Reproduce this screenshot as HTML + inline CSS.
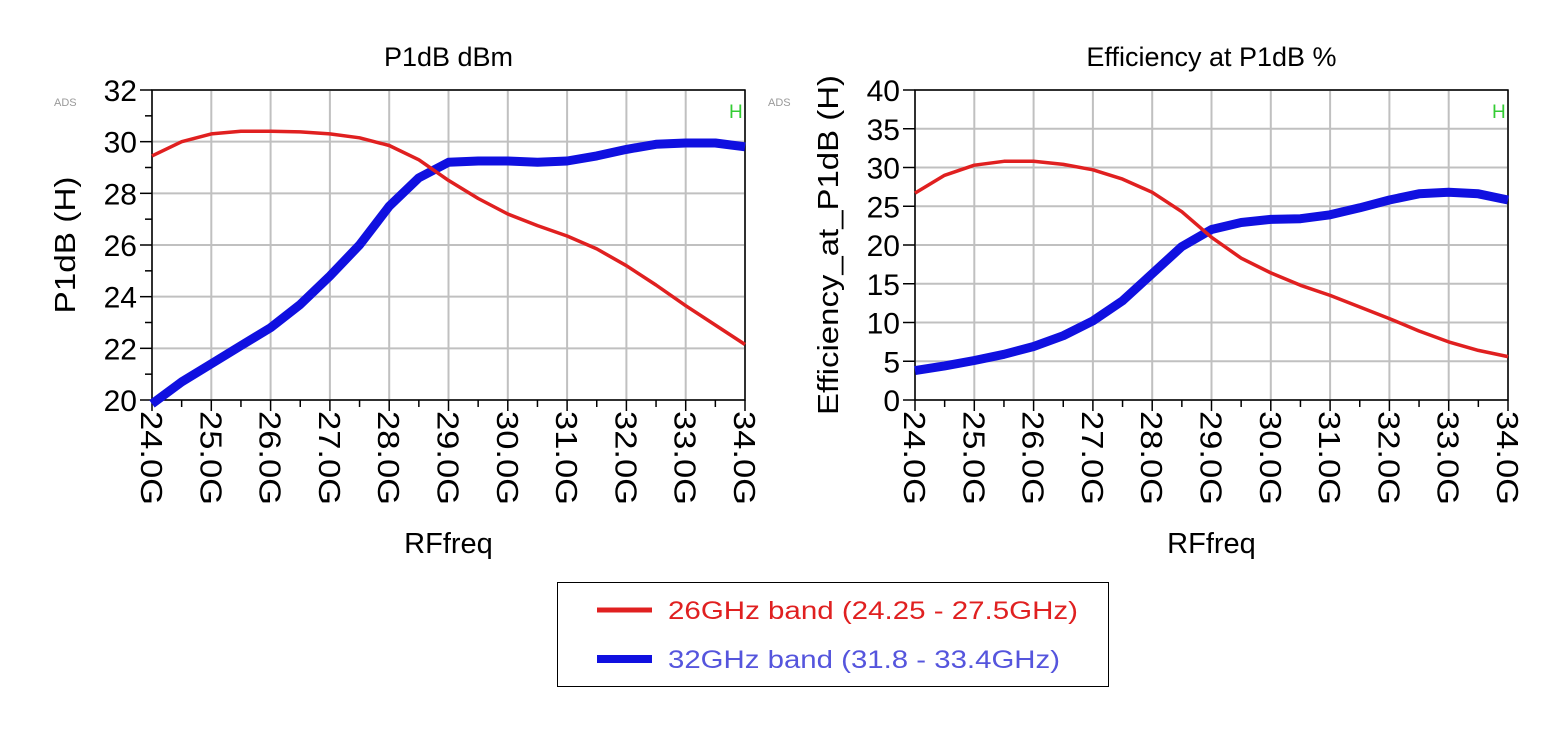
<!DOCTYPE html>
<html><head><meta charset="utf-8"><style>
html,body{margin:0;padding:0;background:#fff;}
body{width:1557px;height:733px;overflow:hidden;font-family:"Liberation Sans",Arial,sans-serif;}
</style></head><body>
<svg id="chart" width="1557" height="733" xmlns="http://www.w3.org/2000/svg" font-family="Liberation Sans, Arial, sans-serif">
<g id="legend">
<rect x="557.5" y="582.5" width="551" height="104" fill="#fff" stroke="#000" stroke-width="1"/>
<line x1="597" y1="610" x2="652" y2="610" stroke="#e02020" stroke-width="5"/>
<text x="668" y="619" font-size="25" fill="#e02020" textLength="410" lengthAdjust="spacingAndGlyphs">26GHz band (24.25 - 27.5GHz)</text>
<line x1="597" y1="659" x2="652" y2="659" stroke="#1010e0" stroke-width="8"/>
<text x="668" y="668" font-size="25" fill="#5555dd" textLength="392" lengthAdjust="spacingAndGlyphs">32GHz band (31.8 - 33.4GHz)</text>
</g>
</svg>
<script>
const freqs=[24,24.5,25,25.5,26,26.5,27,27.5,28,28.5,29,29.5,30,30.5,31,31.5,32,32.5,33,33.5,34];
const xTickLabels=["24.0G","25.0G","26.0G","27.0G","28.0G","29.0G","30.0G","31.0G","32.0G","33.0G","34.0G"];
const p1dbRed=[29.45,30.0,30.3,30.4,30.4,30.38,30.3,30.15,29.85,29.3,28.5,27.8,27.2,26.75,26.35,25.85,25.2,24.45,23.65,22.9,22.15];
const p1dbBlue=[19.85,20.7,21.4,22.1,22.8,23.7,24.8,26.0,27.5,28.6,29.2,29.25,29.25,29.2,29.25,29.45,29.7,29.9,29.95,29.95,29.8];
const effRed=[26.7,29.0,30.3,30.8,30.8,30.4,29.7,28.5,26.8,24.3,21.0,18.3,16.4,14.8,13.5,12.0,10.5,8.9,7.5,6.4,5.6];
const effBlue=[3.8,4.4,5.1,5.9,6.9,8.3,10.2,12.8,16.3,19.8,22.0,22.9,23.3,23.4,23.9,24.8,25.8,26.6,26.8,26.6,25.8];
const p1dbTicks=[20,22,24,26,28,30,32];
const effTicks=[0,5,10,15,20,25,30,35,40];

const NS="http://www.w3.org/2000/svg";
const svg=document.getElementById('chart');
function mk(tag,attrs,parent){const e=document.createElementNS(NS,tag);for(const k in attrs)e.setAttribute(k,attrs[k]);(parent||svg).appendChild(e);return e;}

function panel(o){
  const g=mk('g',{});
  
  
  const X=v=>o.x0+(v-24)/(34-24)*(o.x1-o.x0);
  const Y=v=>o.y1-(v-o.ymin)/(o.ymax-o.ymin)*(o.y1-o.y0);
  xTickLabels.forEach((l,i)=>{const x=X(24+i);
    const ln=mk('line',{x1:x,y1:o.y0,x2:x,y2:o.y1,stroke:'#c0c0c0','stroke-width':2},g);
    });
  o.ticks.forEach(v=>{const y=Y(v);
    const ln=mk('line',{x1:o.x0,y1:y,x2:o.x1,y2:y,stroke:'#c0c0c0','stroke-width':2},g);
    });
  const fr=mk('rect',{x:o.x0,y:o.y0,width:o.x1-o.x0,height:o.y1-o.y0,fill:'none',stroke:'#000','stroke-width':1.5},g);
  
  for(let v=24;v<=34.001;v+=0.5){const x=X(v);const major=Math.abs(v-Math.round(v))<0.01;
    const t=mk('line',{x1:x,y1:o.y1,x2:x,y2:o.y1+(major?11:7),stroke:'#000','stroke-width':1.5},g);
    }
  xTickLabels.forEach((l,i)=>{const x=X(24+i);
    const t=mk('text',{x:0,y:0,'font-size':31,fill:'#000',transform:`translate(${x-11},${o.y1+11}) rotate(90)`,textLength:94,lengthAdjust:'spacingAndGlyphs'},g);
    t.textContent=l;});
  o.ticks.forEach((v,i)=>{const y=Y(v);
    const t=mk('line',{x1:o.x0-12,y1:y,x2:o.x0,y2:y,stroke:'#000','stroke-width':1.5},g);
    
    if(o.minor&&i<o.ticks.length-1){const ym=Y(v+(o.ticks[1]-o.ticks[0])/2);
      const m=mk('line',{x1:o.x0-7,y1:ym,x2:o.x0,y2:ym,stroke:'#000','stroke-width':1.5},g);
      }
    const tl=mk('text',{x:o.x0-15,y:y+11,'font-size':30,'text-anchor':'end',fill:'#000'},g);
    tl.textContent=v;});
  const pts=a=>freqs.map((f,i)=>X(f).toFixed(1)+','+Y(a[i]).toFixed(1)).join(' ');
  const b=mk('polyline',{points:pts(o.blue),fill:'none',stroke:'#1010e0','stroke-width':9,'stroke-linejoin':'round'},g);
  
  const r=mk('polyline',{points:pts(o.red),fill:'none',stroke:'#e02020','stroke-width':3.5,'stroke-linejoin':'round'},g);
  
  const ti=mk('text',{x:(o.x0+o.x1)/2,y:66,'font-size':27,'text-anchor':'middle',fill:'#000'},g);
  ti.textContent=o.title;
  const xl=mk('text',{x:(o.x0+o.x1)/2,y:553,'font-size':29,'text-anchor':'middle',fill:'#000'},g);
  xl.textContent='RFfreq';
  const yl=mk('text',{x:0,y:0,'font-size':29,'text-anchor':'middle',fill:'#000',transform:`translate(${o.ylx},${o.ylc}) rotate(-90)`,textLength:o.ylen,lengthAdjust:'spacingAndGlyphs'},g);
  yl.textContent=o.ylabel;
  const ads=mk('text',{x:o.adsX,y:o.y0+16,'font-size':11,fill:'#999'},g);
  ads.textContent='ADS';
  const h=mk('text',{x:o.x1-16,y:o.y0+28,'font-size':19,fill:'#33cc33'},g);
  h.textContent='H';
}
panel({name:'p1db-panel',x0:152,x1:745,y0:90,y1:400,ymin:20,ymax:32,ticks:p1dbTicks,minor:true,red:p1dbRed,blue:p1dbBlue,title:'P1dB dBm',ylabel:'P1dB  (H)',ylx:75,ylc:245,ylen:137,adsX:54});
panel({name:'efficiency-panel',x0:915,x1:1508,y0:90,y1:400,ymin:0,ymax:40,ticks:effTicks,minor:false,red:effRed,blue:effBlue,title:'Efficiency at P1dB %',ylabel:'Efficiency_at_P1dB  (H)',ylx:838,ylc:245,ylen:340,adsX:768});
</script>
</body></html>
